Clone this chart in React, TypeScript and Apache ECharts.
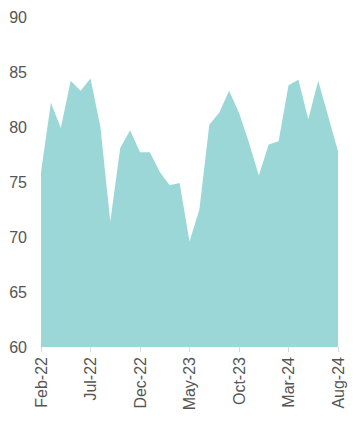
import React, { useEffect, useRef } from "react";
import * as echarts from "echarts";

const months = [
  "Feb-22", "Mar-22", "Apr-22", "May-22", "Jun-22", "Jul-22", "Aug-22", "Sep-22", "Oct-22", "Nov-22", "Dec-22",
  "Jan-23", "Feb-23", "Mar-23", "Apr-23", "May-23", "Jun-23", "Jul-23", "Aug-23", "Sep-23", "Oct-23", "Nov-23", "Dec-23",
  "Jan-24", "Feb-24", "Mar-24", "Apr-24", "May-24", "Jun-24", "Jul-24", "Aug-24",
];

const values = [
  75.9, 82.2, 79.9, 84.2, 83.3, 84.4, 80.0, 71.4, 78.1, 79.7, 77.7,
  77.7, 75.9, 74.7, 74.9, 69.6, 72.5, 80.2, 81.3, 83.3, 81.3, 78.6, 75.6,
  78.4, 78.7, 83.8, 84.3, 80.7, 84.2, 81.0, 77.8,
];

const yTicks = { min: 60, max: 90, interval: 5 };

export default function App() {
  const ref = useRef<HTMLDivElement>(null);
  useEffect(() => {
    const chart = echarts.init(ref.current!, null, { renderer: "svg" });
    chart.setOption({
      animation: false,
      grid: { left: 41, right: 16, top: 17, bottom: 82 },
      xAxis: {
        type: "category",
        data: months,
        boundaryGap: false,
        axisLine: { show: false },
        axisTick: { show: true, interval: 4, length: 5, lineStyle: { color: "#d9d9d9" } },
        axisLabel: {
          interval: 4,
          rotate: 90,
          color: "#555555",
          fontSize: 16,
          fontFamily: "Liberation Sans, Arial, sans-serif",
          margin: 10,
        },
        splitLine: { show: false },
      },
      yAxis: {
        type: "value",
        min: yTicks.min,
        max: yTicks.max,
        interval: yTicks.interval,
        axisLine: { show: false },
        axisTick: { show: false },
        splitLine: { show: false },
        axisLabel: {
          color: "#555555",
          fontSize: 16,
          fontFamily: "Liberation Sans, Arial, sans-serif",
          margin: 14,
        },
      },
      series: [
        {
          type: "line",
          data: values,
          symbol: "none",
          lineStyle: { width: 0 },
          areaStyle: { color: "#9bd7d7", opacity: 1, origin: "start" },
        },
      ],
    });
    return () => chart.dispose();
  }, []);
  return <div ref={ref} style={{ width: 354, height: 429, position: "absolute", left: 0, top: 0 }} />;
}
